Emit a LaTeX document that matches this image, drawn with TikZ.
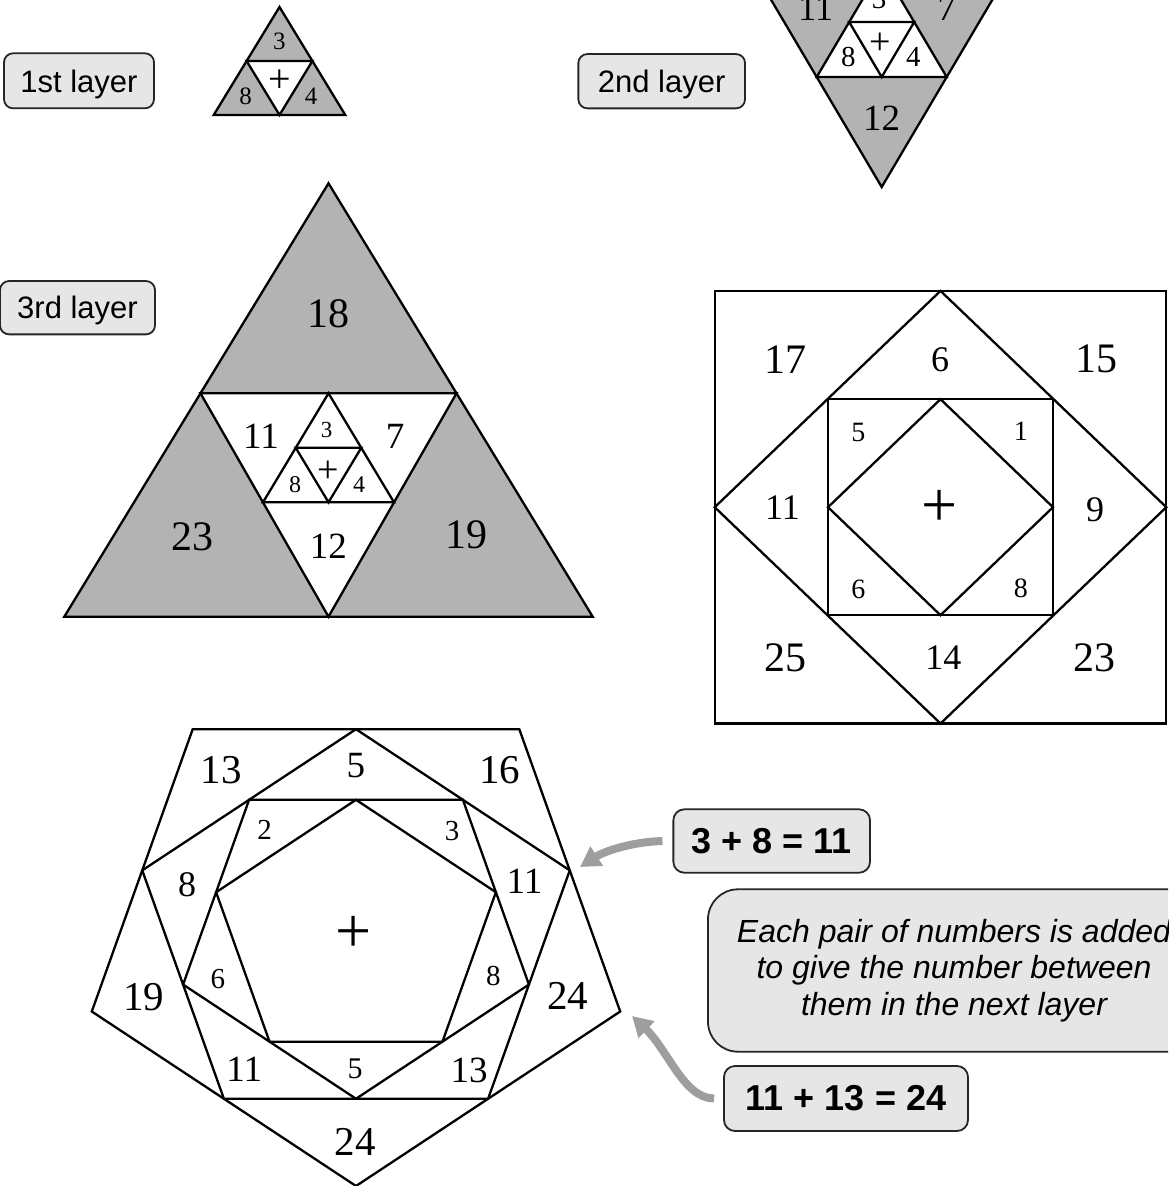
\documentclass[tikz,border=0pt]{standalone}
\usepackage{fontspec}
\setmainfont{Liberation Serif}
\setsansfont{Liberation Sans}
\usetikzlibrary{arrows.meta}
\definecolor{trigray}{HTML}{B3B3B3}
\definecolor{boxgray}{HTML}{E6E6E6}
\definecolor{arrgray}{HTML}{9E9E9E}
\begin{document}
\begin{tikzpicture}[x=1pt,y=-1pt,
  fig/.style={line width=2.3pt, line join=miter},
  num/.style={inner sep=0pt, font=\fontsize{#1}{#1}\selectfont},
  layerbox/.style={draw=black!85, line width=1.8pt, fill=boxgray, rounded corners=9pt, inner sep=0pt, text depth=0pt, font=\sffamily\fontsize{31}{31}\selectfont},
  eqbox/.style={draw=black!85, line width=1.8pt, fill=boxgray, rounded corners=11pt, inner sep=0pt, font=\sffamily\bfseries\fontsize{36}{36}\selectfont},
  callarrow/.style={draw=arrgray, line width=8pt, -{Triangle[length=20pt,width=22pt]}}
]
\useasboundingbox (0,0) rectangle (1168,1186);
\clip (0,0) rectangle (1168,1186);

% ---------- layer labels ----------
\node[layerbox, minimum width=150pt, minimum height=55pt] (lay1) at (79,80.8) {1st layer};
\node[layerbox, minimum width=166.7pt, minimum height=54.3pt] (lay2) at (661.7,81.2) {2nd layer};
\node[layerbox, minimum width=155pt, minimum height=53.3pt] (lay3) at (77.5,307.7) {3rd layer};

% ---------- 1st layer ----------
\filldraw[fig, fill=trigray] (279.5,7) -- (345.3,115) -- (213.7,115) -- cycle;
\filldraw[fig, fill=white] (246.6,61) -- (312.4,61) -- (279.5,115) -- cycle;
\node[num=25] (a1) at (279.3,41.7) {3};
\node[num=40] (a2) at (279.3,80.8) {+};
\node[num=25] (a3) at (245.7,96.7) {8};
\node[num=25] (a4) at (311,96.7) {4};

% ---------- 2nd layer ----------
\filldraw[fig, fill=trigray] (751.7,-33) -- (1011.7,-33) -- (881.7,187) -- cycle;
\filldraw[fig, fill=white] (881.7,-33) -- (946.7,77) -- (816.7,77) -- cycle;
\draw[fig] (849.2,22) -- (914.2,22) -- (881.7,77) -- cycle;
\node[num=36] (b1) at (815.7,8.5) {11};
\node[num=36] (b2) at (946.7,9) {7};
\node[num=29] (b3) at (879,-0.5) {3};
\node[num=29] (b4) at (848.3,56.7) {8};
\node[num=38] (b5) at (880.7,43.3) {+};
\node[num=29] (b6) at (913.3,56.7) {4};
\node[num=37] (b7) at (881.7,118.3) {12};

% ---------- 3rd layer ----------
\filldraw[fig, fill=trigray] (328.5,183.3) -- (592.7,616.7) -- (64.3,616.7) -- cycle;
\filldraw[fig, fill=white] (200.5,393.3) -- (456.5,393.3) -- (328.5,616.7) -- cycle;
\draw[fig] (328.5,393.3) -- (394,502.3) -- (263,502.3) -- cycle;
\draw[fig] (295.75,447.8) -- (361.25,447.8) -- (328.5,502.3) -- cycle;
\node[num=42] (c1) at (328.3,313.3) {18};
\node[num=37] (c2) at (261,436.7) {11};
\node[num=37] (c3) at (395,436.7) {7};
\node[num=23] (c4) at (326.7,430) {3};
\node[num=38] (c5) at (328.3,471.7) {+};
\node[num=24] (c6) at (295,485) {8};
\node[num=24] (c7) at (359,485) {4};
\node[num=42] (c8) at (192.7,536.7) {23};
\node[num=37] (c9) at (328.3,546.7) {12};
\node[num=42] (c10) at (466,535) {19};

% ---------- square ----------
\draw[fig] (714.7,290.9) rectangle (1166.3,723.5);
\draw[fig] (940.5,290.9) -- (1166.3,507.2) -- (940.5,723.5) -- (714.7,507.2) -- cycle;
\draw[fig] (828,399.2) rectangle (1053,615.2);
\draw[fig] (940.5,399.2) -- (1053,507.2) -- (940.5,615.2) -- (828,507.2) -- cycle;
\node[num=42] (s1) at (785,359.2) {17};
\node[num=36] (s2) at (940,360) {6};
\node[num=42] (s3) at (1096.7,359) {15};
\node[num=28] (s4) at (858.3,432.5) {5};
\node[num=28] (s5) at (1020.8,431.7) {1};
\node[num=36] (s6) at (782.5,507.2) {11};
\node[num=64] (s7) at (940,508.3) {+};
\node[num=36] (s8) at (1095,510) {9};
\node[num=28] (s9) at (858.3,589.2) {6};
\node[num=28] (s10) at (1020.8,588.3) {8};
\node[num=42] (s11) at (785.8,657.5) {25};
\node[num=36] (s12) at (943.3,657.5) {14};
\node[num=42] (s13) at (1094,657.5) {23};

% ---------- pentagon ----------
\draw[fig] (356,1186) -- (620.2,1011.5) -- (519.3,729.2) -- (192.7,729.2) -- (91.8,1011.5) -- cycle;
\draw[fig] (488.1,1098.75) -- (569.75,870.35) -- (356,729.2) -- (142.25,870.35) -- (223.9,1098.75) -- cycle;
\draw[fig] (528.9,984.55) -- (462.9,799.8) -- (249.1,799.8) -- (183.1,984.55) -- (356,1098.75) -- cycle;
\draw[fig] (495.9,892.2) -- (356,799.8) -- (216.1,892.2) -- (269.55,1041.65) -- (442.45,1041.65) -- cycle;
\node[num=41] (p1) at (221.3,770.3) {13};
\node[num=37] (p2) at (355.8,765.8) {5};
\node[num=41] (p3) at (499.5,770) {16};
\node[num=29] (p4) at (264.7,830) {2};
\node[num=29] (p5) at (452.2,830.8) {3};
\node[num=36] (p6) at (187.2,885) {8};
\node[num=37] (p7) at (524.5,881.2) {11};
\node[num=64] (p8) at (354,934) {+};
\node[num=41] (p9) at (143.8,996.7) {19};
\node[num=29] (p10) at (217.8,979.2) {6};
\node[num=29] (p11) at (493.3,975.8) {8};
\node[num=41] (p12) at (567.5,995.8) {24};
\node[num=37] (p13) at (244.2,1069.2) {11};
\node[num=30] (p14) at (355,1069.2) {5};
\node[num=37] (p15) at (469.2,1070.8) {13};
\node[num=41] (p16) at (355,1142) {24};

% ---------- callouts ----------
\node[eqbox, minimum width=196.7pt, minimum height=63.4pt] (eq1) at (771.7,841) {3 + 8 = 11};
\node[eqbox, minimum width=244pt, minimum height=65pt] (eq2) at (846,1098.5) {11 + 13 = 24};
\node[draw=black!85, line width=1.8pt, fill=boxgray, rounded corners=30pt, minimum width=492pt, minimum height=162.4pt, align=center, inner sep=0pt, font=\sffamily\itshape\fontsize{32}{36.7}\selectfont] (info) at (954,970.5) {Each pair of numbers is added\\to give the number between\\them in the next layer};

\coordinate (tip1) at (580,867);
\coordinate (tip2) at (632,1016);
\draw[callarrow] ([xshift=-10pt]eq1.west) .. controls (630,842) and (603,852) .. (tip1);
\draw[callarrow] ([xshift=-9pt]eq2.west) .. controls (684,1098.5) and (668,1050) .. (tip2);
\end{tikzpicture}
\end{document}
